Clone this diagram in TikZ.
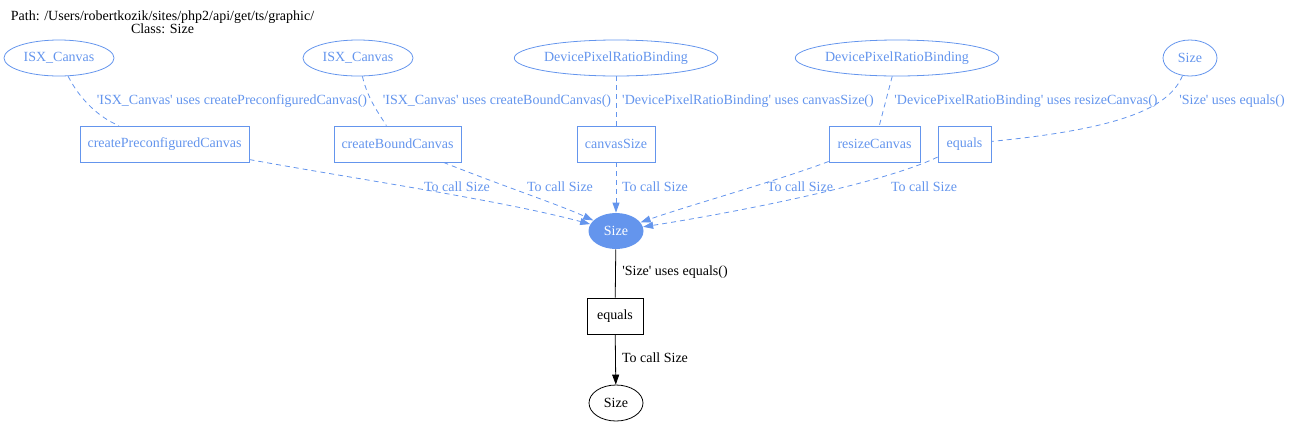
\documentclass[tikz,border=0pt]{standalone}
\usepackage{fontspec}
\usepackage{xcolor}
\usepackage{tikz}
\usetikzlibrary{arrows.meta,shapes.geometric}
\newfontfamily\gvfont{Liberation Serif}
\definecolor{gvblue}{HTML}{6495ED}

\begin{document}
\begin{tikzpicture}[x=1pt, y=-1pt, line width=0.8pt,
    every node/.style={font=\gvfont\fontsize{14}{13.5}\selectfont, inner sep=0pt},
    cls/.style={ellipse, draw=gvblue, text=gvblue, minimum height=36pt},
    meth/.style={rectangle, draw=gvblue, text=gvblue, minimum height=36pt},
    lbl/.style={text=gvblue},
    uses/.style={draw=gvblue, dash pattern=on 5pt off 4pt},
    calls/.style={uses, -{Triangle[length=10pt,width=7pt]}, gvblue}]
  \useasboundingbox (0,0) rectangle (1290,424);
  % title
  \node[align=center] (title) at (162.5,22)
    {Path: /Users/robertkozik/sites/php2/api/get/ts/graphic/\\Class: Size};
  % callers
  \node[cls, minimum width=110pt] (isxa) at (59,58) {ISX\_Canvas};
  \node[cls, minimum width=110pt] (isxb) at (358,58) {ISX\_Canvas};
  \node[cls, minimum width=202pt] (dpra) at (616,58) {DevicePixelRatioBinding};
  \node[cls, minimum width=202pt] (dprb) at (897,58) {DevicePixelRatioBinding};
  \node[cls, minimum width=54pt] (sizeup) at (1190,58) {Size};
  % methods
  \node[meth, minimum width=169pt] (cpc) at (164.5,144) {createPreconfiguredCanvas};
  \node[meth, minimum width=127pt] (cbc) at (397.5,144) {createBoundCanvas};
  \node[meth, minimum width=78pt] (csz) at (616,144) {canvasSize};
  \node[meth, minimum width=91pt] (rsc) at (874.5,144) {resizeCanvas};
  \node[meth, minimum width=53pt] (equp) at (964.5,144) {equals};
  % the class itself
  \node[ellipse, fill=gvblue, text=white, minimum width=55pt, minimum height=36pt]
    (size) at (616,231) {Size};
  \node[rectangle, draw, minimum width=56pt, minimum height=36pt] (eqdn) at (615,316) {equals};
  \node[ellipse, draw, minimum width=54pt, minimum height=36pt] (sizedn) at (616,403) {Size};

  % uses edges
  \draw[uses] (isxa) .. controls (80,100) and (100,118) .. (cpc);
  \draw[uses] (isxb) .. controls (368,100) and (380,115) .. (cbc);
  \draw[uses] (dpra) -- (csz);
  \draw[uses] (dprb) -- (rsc);
  \draw[uses] (sizeup) .. controls (1170,105) and (1130,128) .. (equp);
  \node[lbl] (ua) at (232,101) {'ISX\_Canvas' uses createPreconfiguredCanvas()};
  \node[lbl] (ub) at (497,101) {'ISX\_Canvas' uses createBoundCanvas()};
  \node[lbl] (uc) at (748,101) {'DevicePixelRatioBinding' uses canvasSize()};
  \node[lbl] (ud) at (1026,101) {'DevicePixelRatioBinding' uses resizeCanvas()};
  \node[lbl] (ue) at (1232,101) {'Size' uses equals()};

  % call edges
  \draw[calls] (cpc) .. controls (350,178) and (500,200) .. (size);
  \draw[calls] (cbc) .. controls (500,185) and (560,205) .. (size);
  \draw[calls] (csz) -- (size);
  \draw[calls] (rsc) .. controls (780,180) and (690,205) .. (size);
  \draw[calls] (equp) .. controls (880,185) and (720,215) .. (size);
  \foreach \x/\n in {457/ca, 560/cb, 655/cc, 800/cd, 924/ce}
    \node[lbl] (\n) at (\x,187) {To call Size};

  % own method
  \draw (size) -- (eqdn);
  \draw[-{Triangle[length=10pt,width=7pt]}] (eqdn) -- (sizedn);
  \node (uf) at (675,272) {'Size' uses equals()};
  \node (cf) at (655,358) {To call Size};
\end{tikzpicture}
\end{document}
